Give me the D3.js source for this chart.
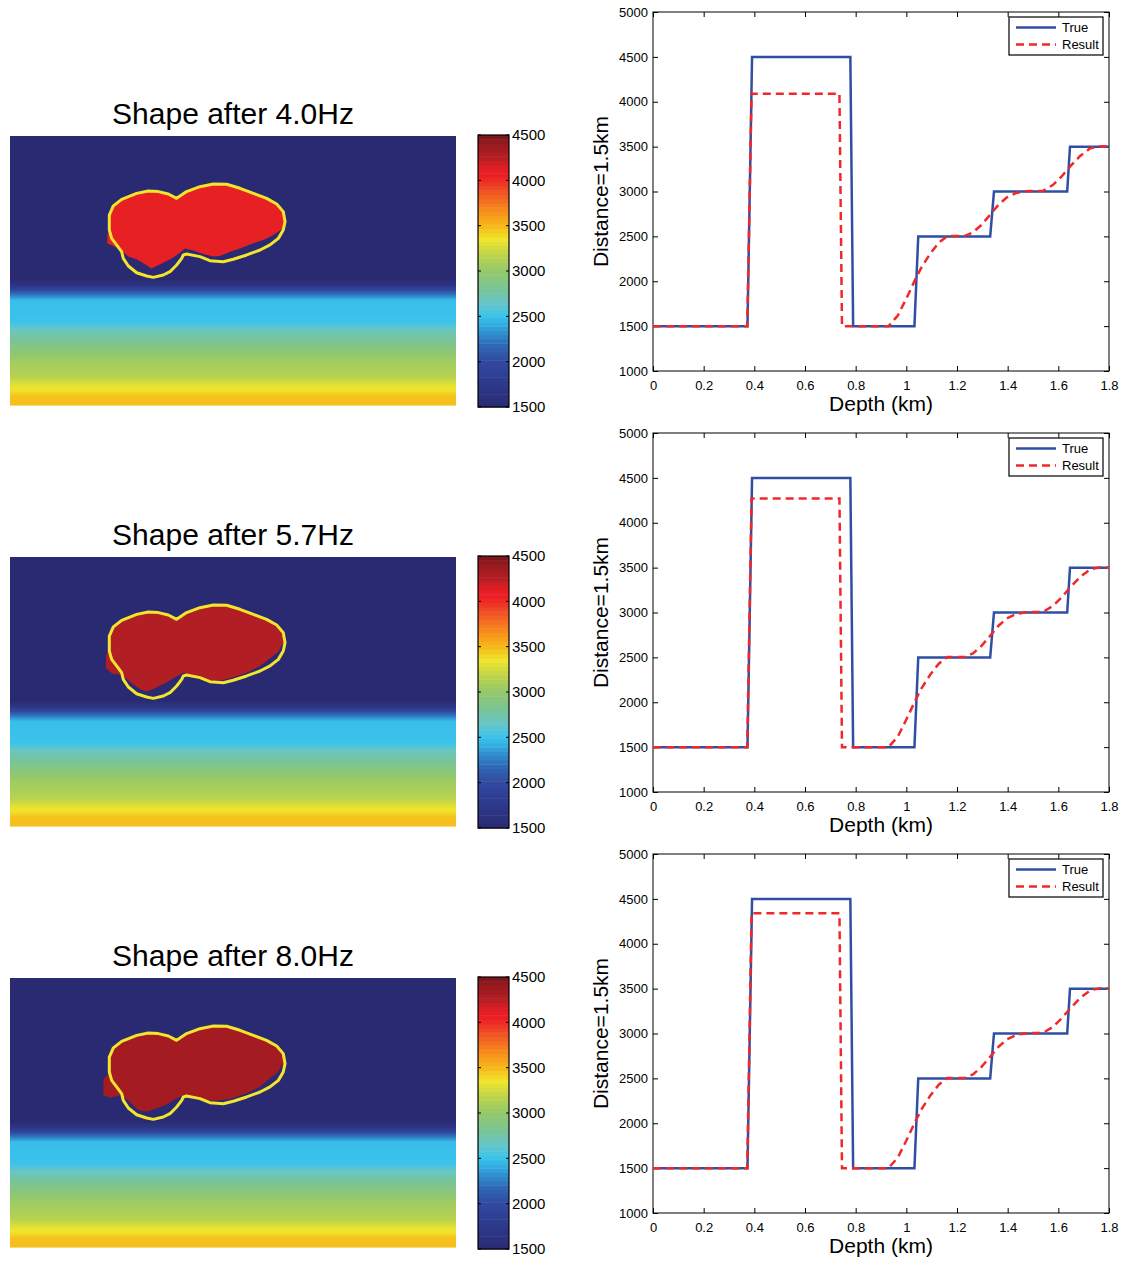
<!DOCTYPE html>
<html>
<head>
<meta charset="utf-8">
<script src="https://cdn.jsdelivr.net/npm/d3@7"></script>
<style>
  body { margin: 0; background: #fff; }
  text { font-family: "Liberation Sans", Arial, sans-serif; fill: #000; }
</style>
</head>
<body>
<svg id="fig" width="1125" height="1262"></svg>
<script>
// --- Data ---
const frequencies = ['4.0', '5.7', '8.0'];
const depthTicks = [0, 0.2, 0.4, 0.6, 0.8, 1, 1.2, 1.4, 1.6, 1.8];
const velTicks = [1000, 1500, 2000, 2500, 3000, 3500, 4000, 4500, 5000];
const cbarTicks = [1500, 2000, 2500, 3000, 3500, 4000, 4500];

// true profile at distance 1.5 km
const trueDepth = [0, 0.373, 0.391, 0.779, 0.790, 1.032, 1.047, 1.331, 1.346, 1.635, 1.646, 1.8];
const trueVel = [1500, 1500, 4500, 4500, 1500, 1500, 2500, 2500, 3000, 3000, 3500, 3500];

// inverted profiles
const resultDepth = [0, 0.372, 0.389, 0.736, 0.746, 0.93, 0.967, 1.0, 1.034, 1.061, 1.095, 1.128, 1.162,
  1.229, 1.263, 1.296, 1.33, 1.363, 1.397, 1.437, 1.484, 1.538, 1.578, 1.612, 1.646, 1.686, 1.726, 1.766, 1.8];
const resultVel40 = [1500, 1500, 4090, 4090, 1500, 1500, 1621, 1807, 2012, 2161, 2310, 2429, 2503,
  2503, 2545, 2626, 2738, 2850, 2935, 2987, 3005, 3005, 3072, 3165, 3277, 3396, 3482, 3505, 3500];
const resultVel57 = [1500, 1500, 4270, 4270, 1500, 1500, 1621, 1807, 2012, 2161, 2310, 2429, 2503,
  2503, 2545, 2626, 2738, 2850, 2935, 2987, 3005, 3005, 3072, 3165, 3277, 3396, 3482, 3505, 3500];
const resultVel80 = [1500, 1500, 4340, 4340, 1500, 1500, 1621, 1807, 2012, 2161, 2310, 2429, 2503,
  2503, 2545, 2626, 2738, 2850, 2935, 2987, 3005, 3005, 3072, 3165, 3277, 3396, 3482, 3505, 3500];
const resultPeaks = [4090, 4270, 4340];

// colormap
const cmapVel = [1500, 1800, 2000, 2200, 2400, 2500, 2650, 2800, 3000, 3200, 3350, 3500, 3650, 3850, 3950, 4050, 4150, 4250, 4400, 4500];
const cmapColor = ['#2a2a72', '#2e3b8f', '#31499f', '#2f6db8', '#33a9e0', '#3ac3ec', '#66c6c8', '#78c498',
  '#93c86c', '#c2d648', '#f0e52c', '#f6b91a', '#f7921d', '#f15a24', '#ee3a24', '#ed2024', '#dd1f24',
  '#b51e24', '#981b20', '#7a1518'];

// background velocity vs depth (km) in the model image
const bgDepth = [0, 0.96, 1.0, 1.05, 1.1, 1.24, 1.3, 1.39, 1.5, 1.61, 1.665, 1.71, 1.74, 1.8];
const bgVel = [1500, 1500, 1700, 2150, 2480, 2500, 2680, 2850, 3050, 3150, 3300, 3380, 3470, 3480];

// body outline, [distance km, depth km]
const shapeTop = [[0.668, 0.562], [0.668, 0.529], [0.695, 0.468], [0.751, 0.424], [0.852, 0.384], [0.930, 0.368],
  [0.998, 0.372], [1.065, 0.388], [1.121, 0.417], [1.188, 0.372], [1.278, 0.339], [1.368, 0.321],
  [1.457, 0.323], [1.547, 0.350], [1.637, 0.384], [1.726, 0.417], [1.794, 0.455], [1.838, 0.506], [1.850, 0.573]];
const trueBottom = [[1.838, 0.629], [1.805, 0.685], [1.749, 0.729], [1.682, 0.763], [1.592, 0.796], [1.502, 0.825],
  [1.435, 0.841], [1.345, 0.834], [1.278, 0.807], [1.188, 0.790], [1.166, 0.796], [1.155, 0.819], [1.121, 0.863],
  [1.076, 0.908], [1.031, 0.930], [0.964, 0.946], [0.919, 0.937], [0.852, 0.915], [0.796, 0.870], [0.762, 0.819],
  [0.751, 0.774], [0.717, 0.729], [0.684, 0.685], [0.668, 0.629]];
const resultBottom40 = [[1.834, 0.618], [1.805, 0.640], [1.760, 0.669], [1.704, 0.696], [1.637, 0.718], [1.547, 0.752],
  [1.480, 0.774], [1.412, 0.803], [1.368, 0.807], [1.300, 0.790], [1.233, 0.767], [1.177, 0.752], [1.132, 0.790],
  [1.087, 0.819], [1.031, 0.848], [0.987, 0.870], [0.953, 0.886], [0.897, 0.852], [0.852, 0.825], [0.796, 0.807],
  [0.751, 0.767], [0.706, 0.741], [0.655, 0.718], [0.655, 0.662], [0.668, 0.629]];
const resultBottom57 = [[1.827, 0.589], [1.805, 0.634], [1.749, 0.678], [1.682, 0.729], [1.592, 0.774], [1.502, 0.805],
  [1.413, 0.828], [1.323, 0.823], [1.233, 0.796], [1.166, 0.774], [1.110, 0.805], [1.043, 0.845], [0.975, 0.879],
  [0.919, 0.901], [0.863, 0.879], [0.807, 0.834], [0.751, 0.790], [0.684, 0.778], [0.646, 0.745], [0.646, 0.656],
  [0.668, 0.620]];
const resultBottom80 = [[1.827, 0.582], [1.805, 0.627], [1.749, 0.671], [1.682, 0.727], [1.592, 0.772], [1.480, 0.810],
  [1.368, 0.823], [1.256, 0.806], [1.166, 0.783], [1.121, 0.806], [1.054, 0.846], [0.987, 0.872], [0.919, 0.895],
  [0.863, 0.883], [0.807, 0.832], [0.751, 0.783], [0.673, 0.801], [0.628, 0.783], [0.628, 0.683], [0.660, 0.640]];

const resultVels = [resultVel40, resultVel57, resultVel80];
const resultBottoms = [resultBottom40, resultBottom57, resultBottom80];

// --- Setup ---
const svg = d3.select('#fig');
const panelGap = 421;
const color = d3.scaleLinear().domain(cmapVel).range(cmapColor).clamp(true);
const background = d3.scaleLinear().domain(bgDepth).range(bgVel).clamp(true);
const blue = '#2f4fa5';
const red = '#f0282a';

frequencies.forEach((f, i) => {
  const off = i * panelGap;
  drawImage(off, f, resultPeaks[i], resultBottoms[i], i);
  drawColorbar(off);
  drawProfile(off, resultVels[i], i);
});

function drawImage(off, freq, peak, bottom, idx) {
  const x = d3.scaleLinear().domain([0, 3]).range([10, 456]);
  const y = d3.scaleLinear().domain([0, 1.8]).range([136 + off, 405 + off]);
  const g = svg.append('g');

  g.append('clipPath').attr('id', 'imgclip' + idx)
    .append('rect').attr('x', x(0)).attr('y', y(0))
    .attr('width', x(3) - x(0)).attr('height', y(1.8) - y(0));

  const step = 1.8 / 269;
  const rows = d3.range(269).map(k => k * step);
  g.selectAll('rect.row')
    .data(rows)
    .enter().append('rect')
    .attr('class', 'row')
    .attr('x', x(0))
    .attr('width', x(3) - x(0))
    .attr('y', d => y(d))
    .attr('height', y(step) - y(0) + 0.6)
    .attr('fill', d => color(background(d + step / 2)));

  const outline = d3.line().x(d => x(d[0])).y(d => y(d[1])).curve(d3.curveLinearClosed);
  const body = g.append('g').attr('clip-path', `url(#imgclip${idx})`);
  body.append('path')
    .attr('d', outline(shapeTop.concat(bottom)))
    .attr('fill', color(peak));
  body.append('path')
    .attr('d', outline(shapeTop.concat(trueBottom)))
    .attr('fill', 'none')
    .attr('stroke', '#f2e52d')
    .attr('stroke-width', 3)
    .attr('stroke-linejoin', 'round');

  svg.append('text')
    .attr('x', (x(0) + x(3)) / 2)
    .attr('y', 124 + off)
    .attr('text-anchor', 'middle')
    .style('font-size', '30px')
    .text(`Shape after ${freq}Hz`);
}

function drawColorbar(off) {
  const x0 = 478, x1 = 509;
  const y = d3.scaleLinear().domain([1500, 4500]).range([407 + off, 135 + off]);
  const g = svg.append('g');
  const nb = 64;
  const bw = 3000 / nb;
  const bands = d3.range(nb).map(k => 1500 + k * bw);
  g.selectAll('rect.band')
    .data(bands)
    .enter().append('rect')
    .attr('class', 'band')
    .attr('x', x0)
    .attr('width', x1 - x0)
    .attr('y', d => y(d + bw))
    .attr('height', d => y(d) - y(d + bw) + 0.5)
    .attr('fill', d => color(d + bw / 2));

  g.append('rect')
    .attr('x', x0).attr('y', y(4500))
    .attr('width', x1 - x0).attr('height', y(1500) - y(4500))
    .attr('fill', 'none').attr('stroke', '#000').attr('stroke-width', 1.2);

  g.selectAll('line.tl')
    .data(cbarTicks)
    .enter().append('line')
    .attr('x1', x0).attr('x2', x0 + 3)
    .attr('y1', d => y(d)).attr('y2', d => y(d))
    .attr('stroke', '#000');
  g.selectAll('line.tr')
    .data(cbarTicks)
    .enter().append('line')
    .attr('x1', x1).attr('x2', x1 - 3)
    .attr('y1', d => y(d)).attr('y2', d => y(d))
    .attr('stroke', '#000');

  g.selectAll('text.lab')
    .data(cbarTicks)
    .enter().append('text')
    .attr('x', x1 + 3)
    .attr('y', d => y(d))
    .attr('dy', '0.36em')
    .style('font-size', '15px')
    .text(d => d);
}

function drawProfile(off, resultVel, idx) {
  const x = d3.scaleLinear().domain([0, 1.8]).range([653, 1109]);
  const y = d3.scaleLinear().domain([1000, 5000]).range([371 + off, 12 + off]);
  const g = svg.append('g');

  g.append('clipPath').attr('id', 'plotclip' + idx)
    .append('rect').attr('x', x(0)).attr('y', y(5000))
    .attr('width', x(1.8) - x(0)).attr('height', y(1000) - y(5000));

  const plain = d => String(d);
  const xb = g.append('g').attr('transform', `translate(0,${y(1000)})`)
    .call(d3.axisBottom(x).tickValues(depthTicks).tickFormat(plain)
      .tickSizeInner(-5).tickSizeOuter(0).tickPadding(10));
  const yl = g.append('g').attr('transform', `translate(${x(0)},0)`)
    .call(d3.axisLeft(y).tickValues(velTicks).tickFormat(plain)
      .tickSizeInner(-5).tickSizeOuter(0).tickPadding(5));
  const xt = g.append('g').attr('transform', `translate(0,${y(5000)})`)
    .call(d3.axisTop(x).tickValues(depthTicks).tickSizeInner(-5).tickSizeOuter(0).tickFormat(''));
  const yr = g.append('g').attr('transform', `translate(${x(1.8)},0)`)
    .call(d3.axisRight(y).tickValues(velTicks).tickSizeInner(-5).tickSizeOuter(0).tickFormat(''));
  [xb, yl, xt, yr].forEach(a => {
    a.select('.domain').remove();
    a.selectAll('text').style('font-size', '13px').attr('fill', '#000');
    a.selectAll('line').attr('stroke', '#000');
  });

  g.append('rect')
    .attr('x', x(0)).attr('y', y(5000))
    .attr('width', x(1.8) - x(0)).attr('height', y(1000) - y(5000))
    .attr('fill', 'none').attr('stroke', '#000').attr('stroke-width', 1);

  const line = d3.line().x(d => x(d[0])).y(d => y(d[1]));
  const lines = g.append('g').attr('clip-path', `url(#plotclip${idx})`);
  lines.append('path')
    .attr('d', line(d3.zip(trueDepth, trueVel)))
    .attr('fill', 'none').attr('stroke', blue).attr('stroke-width', 2.5);
  lines.append('path')
    .attr('d', line(d3.zip(resultDepth, resultVel)))
    .attr('fill', 'none').attr('stroke', red).attr('stroke-width', 2.5)
    .attr('stroke-dasharray', '8,5');

  // axis labels
  g.append('text')
    .attr('x', (x(0) + x(1.8)) / 2)
    .attr('y', 411 + off)
    .attr('text-anchor', 'middle')
    .style('font-size', '21px')
    .text('Depth (km)');
  g.append('text')
    .attr('transform', `translate(608,${(y(1000) + y(5000)) / 2}) rotate(-90)`)
    .attr('text-anchor', 'middle')
    .style('font-size', '21px')
    .text('Distance=1.5km');

  // legend
  const lx = x(1.8) - 100, ly = y(5000) + 5;
  const lg = g.append('g').attr('transform', `translate(${lx},${ly})`);
  lg.append('rect').attr('x', 0).attr('y', 0).attr('width', 94).attr('height', 38)
    .attr('fill', '#fff').attr('stroke', '#000').attr('stroke-width', 1.2);
  const items = [['True', blue, null], ['Result', red, '8,5']];
  items.forEach((it, k) => {
    const yy = 10.5 + k * 17;
    lg.append('line').attr('x1', 7).attr('x2', 47).attr('y1', yy).attr('y2', yy)
      .attr('stroke', it[1]).attr('stroke-width', 2.5).attr('stroke-dasharray', it[2]);
    lg.append('text').attr('x', 53).attr('y', yy).attr('dy', '0.36em')
      .style('font-size', '13px').text(it[0]);
  });
}
</script>
</body>
</html>
